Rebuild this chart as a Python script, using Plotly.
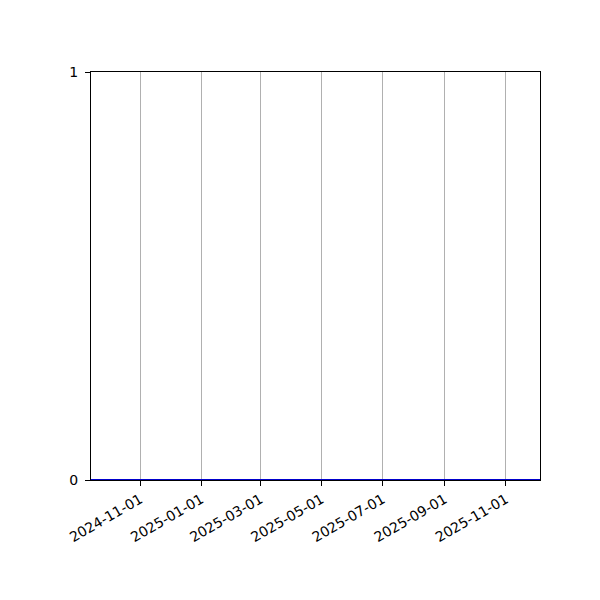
import plotly.graph_objects as go

dates = ["2024-09-13", "2025-12-05"]
values = [0, 0]
tick_dates = ["2024-11-01", "2025-01-01", "2025-03-01", "2025-05-01",
              "2025-07-01", "2025-09-01", "2025-11-01"]
y_ticks = [0, 1]

fig = go.Figure()
fig.add_trace(go.Scatter(x=dates, y=values, mode="lines", cliponaxis=False,
                         line=dict(color="#0000cc", width=2), showlegend=False))

fig.update_layout(
    width=600, height=600,
    margin=dict(l=83, r=68, t=64, b=128),
    paper_bgcolor="white", plot_bgcolor="white",
    font=dict(family="DejaVu Sans", size=14, color="black"),
    xaxis=dict(
        range=[dates[0], dates[-1]],
        tickvals=tick_dates, ticktext=tick_dates,
        tickangle=-30,
        showgrid=True, gridcolor="#b0b0b0", gridwidth=1,
        showline=True, linecolor="black", linewidth=1, mirror=True,
        ticks="outside", ticklen=5, tickcolor="black",
        ticklabelstandoff=0,
        zeroline=False,
    ),
    yaxis=dict(
        range=[0, 1],
        tickvals=y_ticks,
        showgrid=False,
        showline=True, linecolor="black", linewidth=1, mirror=True,
        ticks="outside", ticklen=5, tickcolor="black",
        ticklabelstandoff=4,
        zeroline=False,
    ),
)

fig.write_html("out.html")
